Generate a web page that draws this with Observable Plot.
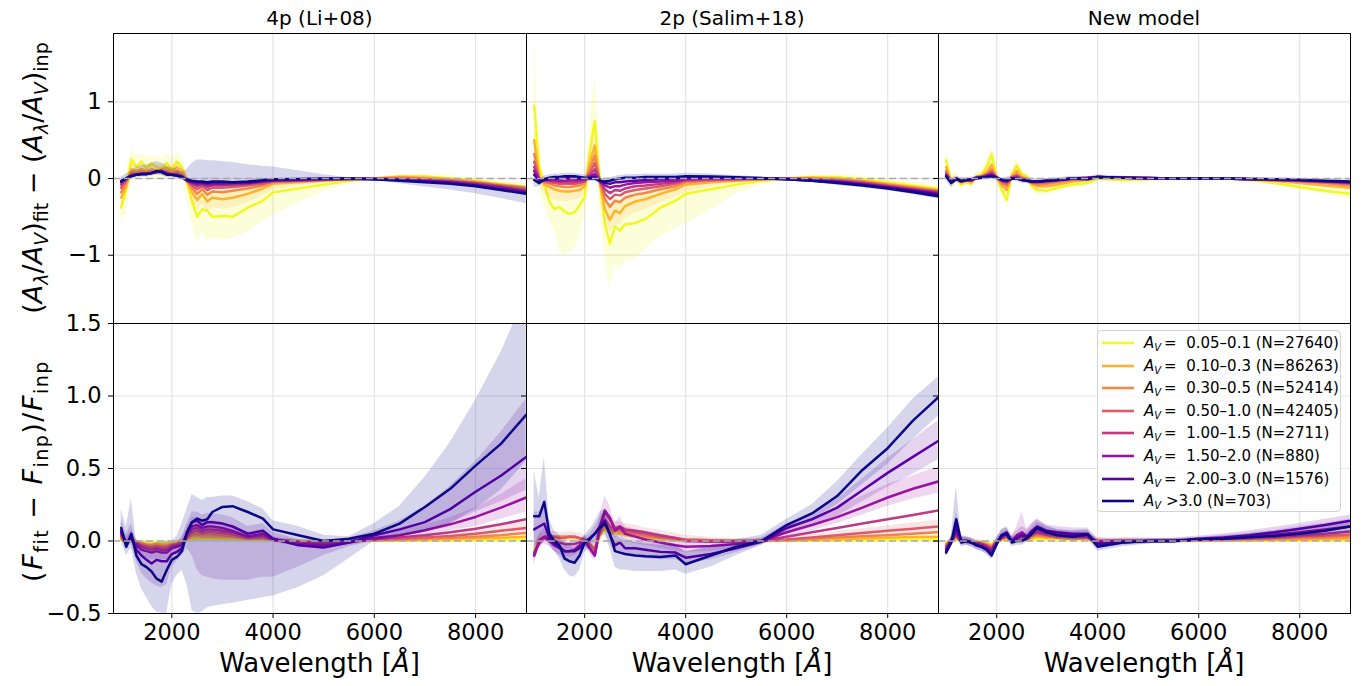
<!DOCTYPE html>
<html>
<head>
<meta charset="utf-8">
<script src="https://cdn.jsdelivr.net/npm/d3@7"></script>
<script src="https://cdn.jsdelivr.net/npm/@observablehq/plot@0.6"></script>
<style>
  body { margin: 0; background: #fff; font-family: "DejaVu Sans", sans-serif; }
  #root { position: relative; width: 1371px; height: 686px; overflow: hidden; background: #fff; }
  .abs { position: absolute; }
  .title { font-size: 20px; text-align: center; color: #000; }
  .xlab { font-size: 26px; text-align: center; color: #000; }
  #legend { position: absolute; left: 1097px; top: 330px; width: 244px; height: 182px;
    background: rgba(255,255,255,0.8); border: 1px solid #d3d3d3; border-radius: 4px; box-sizing: border-box; }
  .lrow { position: absolute; left: 0; height: 20px; display: flex; align-items: center; font-size: 15px; white-space: nowrap; }
  .lrow i { font-style: italic; }
  .lrow sub { font-size: 10px; vertical-align: -3px; line-height: 0; }
</style>
</head>
<body>
<div id="root"></div>
<script>
// ---------------- data ----------------
const WL = [1000,1100,1200,1300,1400,1500,1600,1700,1800,1900,2000,2100,2200,2300,2400,2500,2600,2700,2800,3000,3200,3500,3800,4000,4500,5000,5500,6000,6500,7000,7500,8000,8500,9000];
const X_TICKS = [2000, 4000, 6000, 8000];
const TOP_TICKS = [-1, 0, 1];
const BOT_TICKS = [-0.5, 0, 0.5, 1.0, 1.5];
const COLORS = ["#f0f921","#fdb32f","#f48849","#db5c68","#bf3984","#9814a0","#5c01a6","#0d0887"];
const LEGEND_TEXT = ["0.05–0.1 (N=27640)","0.10–0.3 (N=86263)","0.30–0.5 (N=52414)","0.50–1.0 (N=42405)","1.00–1.5 (N=2711)","1.50–2.0 (N=880)","2.00–3.0 (N=1576)",">3.0 (N=703)"];
const PANEL_TITLES = ["4p (Li+08)", "2p (Salim+18)", "New model"];

// Panel 1: top-left, attenuation curve residual, 4p (Li+08)
const P1_LINES = [
  [-0.38,-0.15,0.25,0.15,0.22,0.13,0.2,0.15,0.13,0.2,0.12,0.22,0.15,-0.05,-0.3,-0.5,-0.4,-0.42,-0.5,-0.49,-0.5,-0.38,-0.29,-0.18,-0.13,-0.08,-0.03,0,0.03,0.03,0,-0.03,-0.07,-0.11],
  [-0.25,-0.1,0.12,0.1,0.12,0.1,0.12,0.1,0.12,0.14,0.1,0.15,0.1,-0.02,-0.18,-0.28,-0.2,-0.3,-0.25,-0.27,-0.25,-0.2,-0.13,-0.07,-0.05,-0.03,-0.01,0,0.02,0.01,-0.01,-0.04,-0.08,-0.12],
  [-0.18,-0.05,0.08,0.08,0.09,0.08,0.1,0.09,0.1,0.1,0.07,0.1,0.06,-0.03,-0.12,-0.2,-0.14,-0.21,-0.17,-0.18,-0.16,-0.13,-0.09,-0.05,-0.035,-0.02,-0.01,0,0.01,0,-0.02,-0.05,-0.09,-0.13],
  [-0.12,-0.02,0.06,0.06,0.07,0.07,0.08,0.08,0.09,0.08,0.05,0.07,0.04,-0.03,-0.09,-0.14,-0.1,-0.15,-0.12,-0.12,-0.11,-0.09,-0.07,-0.04,-0.03,-0.015,-0.005,0,0,-0.01,-0.03,-0.06,-0.1,-0.15],
  [-0.08,0,0.05,0.05,0.06,0.06,0.07,0.08,0.09,0.07,0.05,0.05,0.03,-0.03,-0.07,-0.1,-0.08,-0.11,-0.09,-0.09,-0.08,-0.07,-0.05,-0.03,-0.025,-0.015,-0.005,0,-0.01,-0.02,-0.04,-0.07,-0.11,-0.16],
  [-0.05,0,0.04,0.05,0.06,0.06,0.07,0.09,0.09,0.06,0.05,0.04,0.02,-0.03,-0.05,-0.07,-0.06,-0.08,-0.07,-0.07,-0.06,-0.06,-0.04,-0.03,-0.02,-0.01,-0.005,-0.005,-0.015,-0.03,-0.05,-0.08,-0.12,-0.17],
  [-0.04,0,0.03,0.05,0.06,0.06,0.07,0.09,0.1,0.06,0.05,0.04,0.02,-0.02,-0.04,-0.05,-0.05,-0.06,-0.05,-0.05,-0.05,-0.05,-0.03,-0.02,-0.01,-0.005,0,-0.01,-0.02,-0.04,-0.06,-0.09,-0.14,-0.19],
  [-0.03,0,0.03,0.05,0.06,0.06,0.07,0.1,0.08,0.05,0.05,0.04,0.02,-0.01,-0.03,-0.04,-0.04,-0.05,-0.04,-0.04,-0.05,-0.04,-0.02,-0.01,-0.005,0,0,-0.01,-0.03,-0.05,-0.07,-0.1,-0.15,-0.2]
];
const P1_BANDS = [
  [0,
   [-0.6,-0.45,-0.05,0,0.02,0,0.02,0,0,0.02,0,0.05,0,-0.3,-0.6,-0.85,-0.7,-0.82,-0.78,-0.8,-0.78,-0.7,-0.55,-0.48,-0.32,-0.18,-0.07,-0.01,0,-0.01,-0.04,-0.07,-0.11,-0.15],
   [-0.1,0.05,0.38,0.3,0.33,0.28,0.3,0.28,0.27,0.33,0.27,0.35,0.28,0.05,-0.1,-0.22,-0.15,-0.2,-0.17,-0.18,-0.18,-0.14,-0.1,-0.06,-0.04,-0.02,0.01,0.02,0.05,0.05,0.04,0.01,-0.03,-0.07]],
  [1,
   [-0.4,-0.2,0.02,0.03,0.05,0.04,0.05,0.04,0.05,0.06,0.04,0.07,0.03,-0.1,-0.3,-0.42,-0.33,-0.43,-0.38,-0.4,-0.38,-0.32,-0.22,-0.15,-0.1,-0.06,-0.03,-0.01,0,-0.01,-0.03,-0.06,-0.1,-0.15],
   [-0.1,0,0.2,0.17,0.19,0.16,0.19,0.17,0.19,0.21,0.17,0.23,0.17,0.04,-0.07,-0.14,-0.09,-0.17,-0.13,-0.15,-0.13,-0.1,-0.06,-0.02,-0.01,0,0.01,0.01,0.04,0.03,0.01,-0.02,-0.06,-0.09]],
  [7,
   [-0.08,-0.05,0,0.01,0.02,0.02,0.03,0.05,0.04,0.01,0.01,0,-0.02,-0.05,-0.08,-0.1,-0.1,-0.11,-0.1,-0.1,-0.1,-0.09,-0.06,-0.04,-0.03,-0.02,-0.01,-0.03,-0.07,-0.11,-0.15,-0.2,-0.26,-0.33],
   [0.02,0.06,0.1,0.14,0.17,0.18,0.2,0.22,0.2,0.16,0.14,0.12,0.08,0.12,0.2,0.24,0.24,0.23,0.23,0.22,0.21,0.18,0.16,0.15,0.1,0.05,0.01,0,-0.005,-0.015,-0.03,-0.05,-0.08,-0.1]]
];

// Panel 2: top-middle, 2p (Salim+18)
const P2_LINES = [
  [0.95,0.15,-0.07,-0.3,-0.4,-0.37,-0.43,-0.46,-0.44,-0.35,-0.24,0.35,0.75,-0.05,-0.6,-0.85,-0.62,-0.68,-0.6,-0.58,-0.53,-0.38,-0.29,-0.2,-0.14,-0.08,-0.03,0,0.02,0.02,-0.01,-0.05,-0.09,-0.13],
  [0.5,0.02,-0.08,-0.11,-0.14,-0.16,-0.17,-0.17,-0.16,-0.15,-0.1,0.2,0.43,-0.05,-0.4,-0.54,-0.42,-0.45,-0.36,-0.3,-0.27,-0.2,-0.14,-0.08,-0.05,-0.03,-0.01,0,0.01,0,-0.03,-0.07,-0.11,-0.15],
  [0.32,0,-0.05,-0.07,-0.09,-0.1,-0.11,-0.11,-0.1,-0.09,-0.06,0.12,0.3,-0.04,-0.27,-0.37,-0.29,-0.31,-0.25,-0.21,-0.19,-0.14,-0.1,-0.05,-0.03,-0.02,-0.01,0,0,-0.01,-0.04,-0.08,-0.12,-0.16],
  [0.22,0,-0.03,-0.05,-0.06,-0.07,-0.07,-0.07,-0.07,-0.06,-0.04,0.07,0.2,-0.03,-0.2,-0.27,-0.21,-0.22,-0.18,-0.15,-0.13,-0.1,-0.07,-0.03,-0.02,-0.01,-0.005,0,-0.005,-0.02,-0.05,-0.09,-0.13,-0.17],
  [0.15,0,-0.02,-0.03,-0.04,-0.05,-0.05,-0.05,-0.05,-0.04,-0.03,0.04,0.12,-0.03,-0.14,-0.19,-0.15,-0.16,-0.13,-0.1,-0.09,-0.07,-0.05,-0.02,-0.01,-0.005,0,0,-0.01,-0.03,-0.06,-0.1,-0.14,-0.18],
  [0.1,-0.01,-0.02,-0.02,-0.02,-0.03,-0.03,-0.02,-0.02,-0.02,-0.01,0.02,0.06,-0.03,-0.09,-0.12,-0.1,-0.1,-0.08,-0.06,-0.05,-0.04,-0.03,-0.01,0,0,0,-0.005,-0.02,-0.04,-0.07,-0.11,-0.15,-0.19],
  [0.05,-0.03,-0.02,-0.01,0,0,0.01,0.01,0.01,0,0,0.01,0.02,-0.03,-0.06,-0.07,-0.05,-0.05,-0.04,-0.03,-0.02,-0.01,0,0.01,0.01,0.005,0,-0.01,-0.03,-0.05,-0.08,-0.12,-0.16,-0.21],
  [-0.02,-0.06,-0.01,0.01,0.02,0.02,0.03,0.03,0.03,0.02,0.01,0,0,-0.03,-0.04,-0.03,-0.01,0,0.01,0.01,0.02,0.02,0.02,0.03,0.025,0.015,0.005,-0.01,-0.03,-0.06,-0.09,-0.13,-0.18,-0.23]
];
const P2_BANDS = [
  [0,
   [0.1,-0.15,-0.35,-0.55,-0.68,-0.95,-1.02,-0.95,-0.93,-0.75,-0.5,-0.05,0.3,-0.4,-1.0,-1.48,-1.1,-1.2,-1.08,-1.05,-0.93,-0.76,-0.65,-0.59,-0.41,-0.2,-0.08,-0.02,0,-0.01,-0.04,-0.08,-0.12,-0.16],
   [1.85,0.35,0.05,-0.05,-0.1,-0.13,-0.12,-0.14,-0.12,-0.08,-0.02,0.7,1.35,0.3,-0.25,-0.4,-0.28,-0.3,-0.25,-0.22,-0.2,-0.12,-0.08,-0.05,-0.03,-0.01,0.01,0.02,0.05,0.05,0.03,-0.01,-0.05,-0.09]],
  [1,
   [0.25,-0.1,-0.2,-0.25,-0.28,-0.3,-0.3,-0.3,-0.28,-0.26,-0.2,0.05,0.25,-0.15,-0.55,-0.72,-0.6,-0.6,-0.52,-0.45,-0.4,-0.32,-0.24,-0.18,-0.11,-0.06,-0.03,-0.01,0,-0.01,-0.04,-0.08,-0.12,-0.16],
   [0.75,0.12,0.02,-0.02,-0.04,-0.06,-0.07,-0.07,-0.06,-0.05,0,0.35,0.6,0.05,-0.22,-0.33,-0.25,-0.28,-0.22,-0.17,-0.15,-0.1,-0.06,-0.02,-0.01,0,0.01,0.01,0.02,0.01,-0.02,-0.06,-0.1,-0.14]],
  [7,
   [-0.12,-0.1,-0.05,-0.03,-0.02,-0.02,-0.01,-0.01,-0.01,-0.02,-0.03,-0.04,-0.04,-0.07,-0.08,-0.07,-0.05,-0.04,-0.03,-0.03,-0.02,-0.02,-0.02,-0.01,-0.01,-0.01,-0.01,-0.03,-0.05,-0.09,-0.12,-0.16,-0.21,-0.27],
   [0.08,-0.02,0.03,0.05,0.06,0.06,0.07,0.07,0.07,0.06,0.05,0.04,0.04,0.01,0,0.01,0.03,0.04,0.05,0.05,0.06,0.06,0.06,0.07,0.06,0.04,0.02,0.01,-0.01,-0.03,-0.06,-0.1,-0.15,-0.19]]
];

// Panel 3: top-right, New model
const P3_LINES = [
  [0.24,-0.05,0,-0.08,-0.05,-0.07,0.03,0.05,0.15,0.32,0.02,-0.15,-0.28,0.05,0.17,0.05,0.02,-0.1,-0.15,-0.16,-0.12,-0.08,-0.06,0,-0.02,-0.01,0,0,0,-0.02,-0.06,-0.11,-0.16,-0.2],
  [0.15,-0.04,0,-0.05,-0.03,-0.05,0.02,0.03,0.08,0.18,0.01,-0.09,-0.15,0.03,0.1,0.02,0,-0.07,-0.1,-0.1,-0.08,-0.04,-0.02,0.01,0,0,0,0,0,-0.01,-0.03,-0.06,-0.09,-0.12],
  [0.1,-0.04,0,-0.04,-0.02,-0.04,0.02,0.03,0.06,0.12,0.01,-0.06,-0.1,0.02,0.06,0,-0.01,-0.06,-0.08,-0.07,-0.05,-0.02,0,0.02,0.01,0.005,0,0,0,-0.01,-0.02,-0.04,-0.06,-0.09],
  [0.07,-0.04,0,-0.04,-0.02,-0.03,0.01,0.02,0.05,0.09,0.01,-0.04,-0.07,0.01,0.04,-0.01,-0.02,-0.05,-0.06,-0.05,-0.03,-0.01,0.01,0.02,0.01,0.005,0,0,0,-0.01,-0.02,-0.03,-0.05,-0.07],
  [0.05,-0.04,0,-0.04,-0.02,-0.02,0.01,0.02,0.04,0.07,0.01,-0.03,-0.05,0,0.02,-0.02,-0.02,-0.04,-0.05,-0.04,-0.02,0,0.01,0.02,0.01,0.005,0,0,0,-0.01,-0.02,-0.03,-0.04,-0.06],
  [0.04,-0.05,0,-0.04,-0.02,-0.02,0.01,0.01,0.03,0.05,0.01,-0.02,-0.04,0,0.01,-0.02,-0.03,-0.04,-0.04,-0.03,-0.02,0,0.01,0.02,0.01,0.005,0,0,0,-0.01,-0.015,-0.025,-0.04,-0.05],
  [0.03,-0.05,0,-0.03,-0.02,-0.02,0.01,0.01,0.02,0.04,0.01,-0.02,-0.03,0,0,-0.02,-0.03,-0.04,-0.04,-0.03,-0.02,0,0,0.02,0.01,0.005,0,0,0,-0.005,-0.01,-0.02,-0.035,-0.05],
  [0.03,-0.06,-0.01,-0.03,-0.02,-0.01,0,0.01,0.02,0.03,0.01,-0.02,-0.02,0,0,-0.02,-0.03,-0.04,-0.04,-0.03,-0.02,0,-0.01,0.02,0.01,0,0,0,0,-0.005,-0.01,-0.02,-0.03,-0.04]
];
const P3_BANDS = [
  [0,
   [0.05,-0.15,-0.08,-0.13,-0.1,-0.12,-0.02,0,0.08,0.2,-0.06,-0.22,-0.38,-0.05,0.08,-0.03,-0.05,-0.17,-0.22,-0.21,-0.17,-0.12,-0.1,-0.04,-0.05,-0.03,-0.015,-0.01,-0.01,-0.03,-0.09,-0.15,-0.2,-0.27],
   [0.38,0.05,0.08,-0.02,0,-0.02,0.08,0.1,0.22,0.42,0.1,-0.08,-0.18,0.12,0.26,0.12,0.08,-0.03,-0.08,-0.1,-0.07,-0.03,-0.02,0.04,0.01,0.01,0.01,0.01,0.01,0,-0.03,-0.07,-0.11,-0.14]],
  [1,
   [0.05,-0.1,-0.05,-0.09,-0.07,-0.09,-0.02,-0.01,0.03,0.1,-0.04,-0.14,-0.22,-0.03,0.03,-0.04,-0.05,-0.12,-0.15,-0.14,-0.12,-0.07,-0.05,-0.02,-0.02,-0.015,-0.01,-0.01,-0.01,-0.02,-0.05,-0.09,-0.12,-0.16],
   [0.25,0.02,0.05,-0.01,0.01,-0.01,0.06,0.07,0.13,0.26,0.06,-0.04,-0.08,0.09,0.17,0.08,0.05,-0.02,-0.05,-0.06,-0.04,0,0.03,0.04,0.02,0.01,0.01,0.01,0.01,0,-0.01,-0.03,-0.06,-0.08]],
  [7,
   [-0.03,-0.12,-0.05,-0.07,-0.05,-0.04,-0.03,-0.02,-0.01,0,-0.02,-0.05,-0.06,-0.03,-0.04,-0.06,-0.07,-0.08,-0.07,-0.06,-0.05,-0.03,-0.04,-0.01,-0.01,-0.01,-0.01,-0.01,-0.01,-0.02,-0.03,-0.04,-0.05,-0.07],
   [0.09,0,0.03,0.01,0.01,0.02,0.03,0.04,0.05,0.06,0.04,0.01,0.02,0.03,0.04,0.02,0.01,0,-0.01,0,0.01,0.03,0.02,0.05,0.03,0.01,0.01,0.01,0.01,0.01,0.01,0,-0.01,-0.02]]
];

// Panel 4: bottom-left, flux residual, 4p (Li+08)
const P4_LINES = [
  [0.01,0,0,-0.003,-0.005,-0.008,-0.01,-0.008,-0.01,-0.01,-0.008,-0.005,0,0.008,0.015,0.018,0.015,0.015,0.015,0.014,0.012,0.008,0.008,0.003,0,0,0,0,0.002,0.003,0.004,0.006,0.008,0.01],
  [0.02,-0.005,0.005,-0.005,-0.015,-0.02,-0.025,-0.02,-0.025,-0.025,-0.02,-0.015,-0.005,0.015,0.03,0.035,0.03,0.03,0.03,0.028,0.025,0.015,0.015,0.005,0,0,0,0.003,0.006,0.01,0.013,0.017,0.022,0.03],
  [0.03,-0.01,0.01,-0.01,-0.02,-0.03,-0.035,-0.03,-0.035,-0.035,-0.025,-0.02,-0.01,0.02,0.045,0.05,0.045,0.045,0.045,0.04,0.035,0.02,0.02,0.005,-0.005,-0.005,0,0.005,0.01,0.015,0.02,0.03,0.04,0.055],
  [0.04,-0.01,0.01,-0.015,-0.03,-0.04,-0.045,-0.04,-0.045,-0.045,-0.03,-0.025,-0.015,0.03,0.06,0.07,0.055,0.06,0.06,0.055,0.045,0.025,0.03,0.01,-0.005,-0.01,0,0.005,0.015,0.025,0.035,0.05,0.07,0.09],
  [0.05,-0.01,0.02,-0.02,-0.04,-0.05,-0.06,-0.05,-0.06,-0.06,-0.04,-0.03,-0.02,0.04,0.08,0.09,0.07,0.08,0.08,0.07,0.06,0.03,0.04,0.01,-0.01,-0.02,-0.005,0.01,0.025,0.04,0.06,0.085,0.115,0.15],
  [0.06,-0.01,0.02,-0.03,-0.06,-0.07,-0.08,-0.07,-0.08,-0.08,-0.05,-0.04,-0.03,0.05,0.1,0.11,0.09,0.1,0.1,0.09,0.07,0.03,0.05,0.01,-0.02,-0.03,-0.01,0.02,0.04,0.074,0.115,0.166,0.23,0.3],
  [0.07,-0.02,0.03,-0.06,-0.1,-0.13,-0.155,-0.13,-0.14,-0.14,-0.09,-0.075,-0.05,0.06,0.13,0.14,0.11,0.13,0.13,0.12,0.1,0.05,0.07,0.015,-0.03,-0.045,-0.01,0.04,0.08,0.13,0.22,0.34,0.45,0.58],
  [0.09,-0.04,0.05,-0.1,-0.16,-0.18,-0.21,-0.26,-0.28,-0.2,-0.13,-0.11,-0.07,0.06,0.13,0.155,0.14,0.15,0.2,0.235,0.24,0.2,0.155,0.08,0.04,0,0.015,0.05,0.12,0.235,0.36,0.52,0.67,0.87]
];
const P4_BANDS = [
  [3,
   [0,-0.03,-0.01,-0.04,-0.06,-0.07,-0.075,-0.07,-0.075,-0.075,-0.06,-0.05,-0.04,0,0.03,0.04,0.03,0.035,0.035,0.03,0.02,0.005,0.01,-0.01,-0.02,-0.025,-0.01,-0.005,0,0.01,0.015,0.025,0.04,0.05],
   [0.09,0.02,0.05,0.01,0,-0.01,-0.015,-0.01,-0.015,-0.015,0,0.005,0.02,0.07,0.1,0.11,0.09,0.09,0.09,0.085,0.075,0.05,0.055,0.03,0.01,0.005,0.01,0.015,0.03,0.045,0.06,0.08,0.105,0.135]],
  [5,
   [0.02,-0.04,-0.01,-0.07,-0.1,-0.12,-0.13,-0.12,-0.13,-0.13,-0.09,-0.08,-0.06,0,0.05,0.06,0.05,0.06,0.06,0.05,0.04,0,0.02,-0.01,-0.04,-0.05,-0.03,0,0.02,0.04,0.07,0.1,0.15,0.2],
   [0.12,0.03,0.08,0.01,-0.02,-0.03,-0.04,-0.03,-0.04,-0.04,-0.02,-0.01,0.01,0.1,0.16,0.16,0.13,0.14,0.14,0.13,0.1,0.06,0.08,0.03,0,-0.01,0.01,0.04,0.07,0.11,0.16,0.23,0.32,0.43]],
  [6,
   [0.02,-0.06,-0.02,-0.14,-0.22,-0.26,-0.29,-0.31,-0.32,-0.3,-0.18,-0.14,-0.1,-0.05,-0.1,-0.2,-0.24,-0.25,-0.26,-0.27,-0.27,-0.27,-0.25,-0.25,-0.18,-0.1,-0.04,0,0.03,0.06,0.12,0.2,0.27,0.35],
   [0.15,0.05,0.12,0,-0.03,-0.05,-0.07,-0.05,-0.06,-0.06,-0.03,-0.02,0.03,0.12,0.2,0.2,0.18,0.19,0.19,0.18,0.16,0.1,0.12,0.06,0.01,-0.01,0.02,0.07,0.14,0.24,0.38,0.55,0.75,0.98]],
  [7,
   [0,-0.1,-0.05,-0.22,-0.33,-0.39,-0.45,-0.49,-0.5,-0.5,-0.3,-0.24,-0.2,-0.3,-0.48,-0.5,-0.49,-0.46,-0.45,-0.44,-0.43,-0.41,-0.39,-0.38,-0.32,-0.24,-0.12,0,0.03,0.06,0.12,0.22,0.35,0.55],
   [0.22,0.1,0.29,0,0,-0.02,-0.02,-0.01,-0.01,0,0,0.03,0.12,0.22,0.32,0.3,0.28,0.3,0.3,0.31,0.31,0.27,0.22,0.14,0.1,0.04,0.03,0.12,0.24,0.44,0.68,0.97,1.3,1.7]]
];

// Panel 5: bottom-middle, 2p (Salim+18)
const P5_LINES = [
  [-0.06,0.01,0.02,0.02,0.02,0.02,0.02,0.02,0.02,0.015,0.01,-0.04,-0.07,0.03,0.08,0.05,0.05,0.05,0.04,0.03,0.02,0.01,0.005,0,0,0,0,0,0.002,0.004,0.006,0.008,0.01,0.012],
  [-0.08,0.01,0.03,0.03,0.03,0.03,0.03,0.03,0.025,0.02,0.01,-0.03,-0.07,0.04,0.1,0.06,0.06,0.06,0.05,0.04,0.03,0.02,0.01,0.005,0,0,0,0.003,0.008,0.012,0.017,0.022,0.027,0.03],
  [-0.09,0.01,0.03,0.03,0.03,0.03,0.03,0.03,0.03,0.02,0.01,-0.02,-0.05,0.05,0.12,0.08,0.07,0.07,0.06,0.05,0.04,0.025,0.015,0.01,0.005,0,0,0.005,0.015,0.025,0.033,0.04,0.05,0.06],
  [-0.1,0,0.03,0.03,0.03,0.02,0.02,0.03,0.03,0.02,0.01,-0.03,-0.06,0.06,0.15,0.1,0.08,0.08,0.07,0.06,0.05,0.03,0.02,0.01,0.005,0,0,0.01,0.025,0.04,0.055,0.07,0.085,0.1],
  [-0.08,-0.02,0.02,0.01,0,-0.01,-0.02,-0.02,-0.02,-0.01,0,-0.05,-0.1,0.08,0.2,0.15,0.09,0.1,0.08,0.07,0.06,0.04,0.02,0,-0.005,-0.005,0,0.03,0.06,0.09,0.12,0.15,0.18,0.21],
  [-0.1,0,0.03,0,-0.03,-0.05,-0.07,-0.07,-0.06,-0.03,0,-0.05,-0.1,0.1,0.21,0.16,0.07,0.1,0.05,0.03,0.01,-0.01,-0.03,-0.04,-0.035,-0.02,0,0.06,0.11,0.165,0.23,0.3,0.36,0.41],
  [0.08,0.1,0.12,0.02,-0.02,-0.04,-0.07,-0.07,-0.07,-0.05,-0.01,0.01,0.05,0.1,0.14,0.04,-0.03,-0.01,-0.05,-0.05,-0.06,-0.075,-0.08,-0.115,-0.09,-0.05,-0.005,0.09,0.15,0.23,0.35,0.47,0.58,0.69],
  [0.17,0.17,0.27,0.05,0,-0.03,-0.12,-0.14,-0.15,-0.1,-0.01,0.02,0.05,0.09,0.12,0.05,-0.07,-0.08,-0.09,-0.1,-0.105,-0.11,-0.1,-0.16,-0.1,-0.04,0,0.11,0.19,0.31,0.49,0.64,0.83,0.99]
];
const P5_BANDS = [
  [3,
   [-0.17,-0.04,0,0,0,-0.01,-0.01,0,0,-0.01,-0.02,-0.07,-0.11,0.02,0.09,0.05,0.04,0.04,0.03,0.02,0.01,0,-0.01,-0.015,-0.015,-0.015,-0.01,-0.005,0.005,0.015,0.025,0.035,0.045,0.055],
   [-0.03,0.04,0.06,0.06,0.065,0.06,0.06,0.065,0.06,0.055,0.04,0.01,-0.01,0.12,0.22,0.17,0.14,0.13,0.12,0.11,0.09,0.07,0.055,0.04,0.025,0.015,0.01,0.025,0.045,0.065,0.085,0.105,0.125,0.145]],
  [5,
   [-0.15,-0.05,-0.02,-0.04,-0.07,-0.09,-0.11,-0.11,-0.1,-0.07,-0.04,-0.09,-0.14,0.04,0.13,0.09,0.02,0.04,0,-0.02,-0.03,-0.05,-0.07,-0.08,-0.07,-0.05,-0.02,0.03,0.07,0.12,0.18,0.24,0.29,0.33],
   [-0.04,0.05,0.09,0.04,0.01,-0.01,-0.03,-0.03,-0.02,0.01,0.04,-0.01,-0.05,0.17,0.31,0.24,0.12,0.17,0.1,0.08,0.06,0.03,0.01,0,0,0.01,0.02,0.09,0.15,0.23,0.31,0.39,0.45,0.51]],
  [6,
   [-0.03,0,0.02,-0.03,-0.07,-0.1,-0.14,-0.14,-0.14,-0.11,-0.05,-0.03,0,0.04,0.07,-0.02,-0.08,-0.07,-0.1,-0.11,-0.12,-0.13,-0.13,-0.16,-0.13,-0.08,-0.03,0.06,0.11,0.17,0.27,0.37,0.46,0.56],
   [0.2,0.2,0.25,0.08,0.03,0.01,-0.01,-0.01,-0.01,0,0.03,0.05,0.1,0.16,0.21,0.1,0.03,0.05,0.01,-0.01,-0.01,-0.02,-0.03,-0.07,-0.05,-0.02,0.02,0.12,0.19,0.29,0.43,0.57,0.7,0.83]],
  [7,
   [-0.05,0,0.05,-0.02,-0.07,-0.12,-0.2,-0.24,-0.25,-0.2,-0.08,-0.05,-0.02,0.03,0.04,-0.05,-0.18,-0.2,-0.2,-0.21,-0.21,-0.21,-0.2,-0.23,-0.18,-0.1,-0.03,0.07,0.15,0.25,0.39,0.53,0.7,0.86],
   [0.48,0.3,0.58,0.15,0.07,0.04,-0.02,-0.03,-0.05,-0.02,0.04,0.08,0.13,0.2,0.22,0.14,0.04,0.02,0,-0.01,-0.02,-0.03,-0.02,-0.08,-0.03,0.01,0.04,0.15,0.25,0.41,0.6,0.78,0.98,1.13]]
];

// Panel 6: bottom-right, New model
const P6_LINES = [
  [-0.01,0,0.01,0,0,-0.005,-0.005,-0.005,-0.01,-0.02,-0.005,0.005,0.01,0,0.005,0.01,0.005,0.01,0.015,0.01,0.01,0.008,0.008,0,0,0,0,0,0.001,0.002,0.003,0.004,0.005,0.006],
  [-0.02,0,0.02,0,0,-0.005,-0.01,-0.01,-0.02,-0.03,-0.01,0.01,0.02,0,0.01,0.015,0.01,0.02,0.03,0.02,0.02,0.015,0.015,0,0,0,0,0.002,0.004,0.006,0.008,0.01,0.013,0.016],
  [-0.03,0,0.03,0,0,-0.01,-0.01,-0.015,-0.025,-0.04,-0.01,0.015,0.025,0,0.015,0.02,0.01,0.03,0.04,0.03,0.025,0.02,0.02,0,0,0,0,0.003,0.007,0.01,0.014,0.018,0.023,0.03],
  [-0.04,0,0.04,0,0,-0.01,-0.015,-0.02,-0.03,-0.05,-0.01,0.02,0.03,0,0.02,0.03,0.015,0.04,0.05,0.04,0.03,0.025,0.025,0,0,0,0,0.005,0.01,0.015,0.02,0.03,0.035,0.045],
  [-0.05,0,0.05,0,0,-0.01,-0.02,-0.03,-0.04,-0.06,-0.01,0.02,0.04,0,0.03,0.04,0.02,0.05,0.06,0.05,0.04,0.03,0.03,-0.005,0,0,0,0.008,0.015,0.022,0.03,0.04,0.05,0.065],
  [-0.06,0,0.07,0,0,-0.01,-0.02,-0.03,-0.05,-0.07,-0.01,0.03,0.05,0,0.04,0.06,0.03,0.07,0.08,0.06,0.05,0.04,0.04,-0.01,-0.005,0,0,0.01,0.02,0.03,0.045,0.06,0.08,0.1],
  [-0.07,-0.01,0.1,0,0,-0.01,-0.03,-0.04,-0.06,-0.09,-0.02,0.04,0.06,0,0.02,0.04,0.03,0.07,0.1,0.07,0.06,0.05,0.05,-0.02,-0.01,0,0,0.015,0.025,0.04,0.06,0.085,0.11,0.14],
  [-0.08,-0.01,0.15,-0.01,0,-0.01,-0.03,-0.04,-0.06,-0.1,-0.02,0.04,0.05,-0.01,0,0,0.02,0.05,0.09,0.06,0.04,0.03,0.045,-0.04,-0.01,0,0,0.01,0.015,0.025,0.035,0.05,0.07,0.1]
];
const P6_BANDS = [
  [3,
   [-0.06,-0.02,0.02,-0.02,-0.02,-0.03,-0.035,-0.04,-0.05,-0.07,-0.03,0,0.01,-0.02,0,0.01,-0.005,0.02,0.03,0.02,0.01,0.005,0.005,-0.02,-0.015,-0.01,-0.01,-0.005,0,0.005,0.01,0.015,0.02,0.025],
   [-0.015,0.025,0.07,0.025,0.025,0.015,0.01,0.005,-0.005,-0.025,0.015,0.045,0.055,0.025,0.045,0.06,0.04,0.065,0.075,0.065,0.055,0.05,0.05,0.025,0.02,0.015,0.015,0.02,0.025,0.03,0.035,0.045,0.055,0.07]],
  [5,
   [-0.09,-0.02,0.03,-0.02,-0.02,-0.03,-0.04,-0.05,-0.07,-0.09,-0.03,0.01,0.03,-0.02,0.01,0.02,0,0.04,0.05,0.03,0.02,0.015,0.015,-0.03,-0.02,-0.01,-0.01,0,0.005,0.01,0.02,0.03,0.045,0.06],
   [-0.03,0.03,0.13,0.03,0.02,0.01,0,-0.01,-0.02,-0.04,0.02,0.06,0.08,0.03,0.1,0.2,0.08,0.12,0.15,0.1,0.08,0.07,0.07,0.01,0.01,0.01,0.015,0.025,0.04,0.055,0.075,0.1,0.125,0.15]],
  [6,
   [-0.1,-0.04,0.03,-0.03,-0.03,-0.04,-0.06,-0.07,-0.09,-0.12,-0.05,0.01,0.03,-0.03,-0.01,0.01,0,0.04,0.07,0.04,0.03,0.02,0.02,-0.05,-0.03,-0.02,-0.01,0,0.005,0.015,0.03,0.05,0.07,0.1],
   [-0.03,0.03,0.2,0.04,0.03,0.02,0,-0.01,-0.03,-0.05,0.02,0.08,0.1,0.04,0.07,0.1,0.08,0.12,0.15,0.11,0.1,0.09,0.09,0.02,0.01,0.015,0.02,0.035,0.05,0.07,0.095,0.12,0.15,0.18]],
  [7,
   [-0.11,-0.04,0.02,-0.04,-0.03,-0.04,-0.06,-0.07,-0.09,-0.13,-0.05,0.01,0.02,-0.04,-0.03,-0.03,-0.01,0.02,0.05,0.03,0.01,0,0.01,-0.07,-0.04,-0.02,-0.01,0,0,0.005,0.01,0.02,0.03,0.05],
   [-0.04,0.03,0.38,0.03,0.03,0.02,0,-0.01,-0.03,-0.06,0.02,0.08,0.09,0.03,0.04,0.04,0.06,0.09,0.13,0.1,0.08,0.07,0.08,0,0.02,0.02,0.015,0.025,0.035,0.05,0.065,0.085,0.11,0.14]]
];

// ---------------- checks ----------------
[P1_LINES,P2_LINES,P3_LINES,P4_LINES,P5_LINES,P6_LINES].forEach((L, p) => L.forEach((a, s) => {
  if (a.length !== WL.length) throw new Error(`P${p+1} line ${s} has ${a.length}`);
}));
[P1_BANDS,P2_BANDS,P3_BANDS,P4_BANDS,P5_BANDS,P6_BANDS].forEach((B, p) => B.forEach(b => {
  if (b[1].length !== WL.length || b[2].length !== WL.length) throw new Error(`P${p+1} band ${b[0]} has ${b[1].length}/${b[2].length}`);
}));

// ---------------- layout ----------------
const root = document.getElementById("root");
const COL_LEFT = [113, 526, 938];
const COL_W = [413, 412, 412];
const ROW_TOP = [33, 323];
const ROW_H = 290;
const X_DOMAIN = [848, 9006];

const fmtTop = d => d < 0 ? "\u2212" + Math.abs(d) : String(d);
const fmtBot = d3.format(".1f");

function makePanel(lines, bands, row, col) {
  const isTop = row === 0;
  const yTicks = isTop ? TOP_TICKS : BOT_TICKS;
  const marks = [];
  marks.push(Plot.ruleX(X_TICKS, {stroke: "#e3e3e3", strokeWidth: 1.2}));
  marks.push(Plot.ruleY(yTicks, {stroke: "#e3e3e3", strokeWidth: 1.2}));
  for (let s = 0; s < 8; s++) {
    const b = bands.find(d => d[0] === s);
    if (b) {
      const bd = WL.map((w, i) => ({w, lo: b[1][i], hi: b[2][i]}));
      marks.push(Plot.areaY(bd, {x: "w", y1: "lo", y2: "hi", fill: COLORS[s], fillOpacity: 0.17, clip: true}));
    }
    const ld = WL.map((w, i) => ({w, v: lines[s][i]}));
    marks.push(Plot.lineY(ld, {x: "w", y: "v", stroke: COLORS[s], strokeWidth: 2.5, clip: true}));
  }
  marks.push(Plot.ruleY([0], {stroke: "#a9a9a9", strokeWidth: 1.5, strokeDasharray: "7,4"}));
  marks.push(Plot.frame({stroke: "#000", strokeWidth: 1}));
  marks.push(Plot.axisY(yTicks, {
    tickSize: 5, tickPadding: 7, fontSize: 22.5, label: null,
    tickFormat: col === 0 ? (isTop ? fmtTop : fmtBot) : () => ""
  }));
  if (!isTop) {
    marks.push(Plot.axisX(X_TICKS, {tickSize: 5, tickPadding: 6, fontSize: 22.5, label: null, tickFormat: d => String(d)}));
  }
  const svg = Plot.plot({
    width: COL_W[col], height: ROW_H,
    marginLeft: 0, marginRight: 0, marginTop: 0, marginBottom: 0,
    x: {domain: X_DOMAIN, ...(isTop ? {axis: null} : {})},
    y: {domain: isTop ? [-1.89, 1.89] : [-0.5, 1.5]},
    style: {overflow: "visible", background: "transparent", fontFamily: "DejaVu Sans", color: "#000"},
    marks
  });
  const wrap = document.createElement("div");
  wrap.className = "abs";
  wrap.style.left = COL_LEFT[col] + "px";
  wrap.style.top = ROW_TOP[row] + "px";
  wrap.style.width = COL_W[col] + "px";
  wrap.style.height = ROW_H + "px";
  wrap.appendChild(svg);
  root.appendChild(wrap);
}

makePanel(P1_LINES, P1_BANDS, 0, 0);
makePanel(P2_LINES, P2_BANDS, 0, 1);
makePanel(P3_LINES, P3_BANDS, 0, 2);
makePanel(P4_LINES, P4_BANDS, 1, 0);
makePanel(P5_LINES, P5_BANDS, 1, 1);
makePanel(P6_LINES, P6_BANDS, 1, 2);

// titles and x labels
PANEL_TITLES.forEach((t, c) => {
  const d = document.createElement("div");
  d.className = "abs title";
  d.style.left = COL_LEFT[c] + "px"; d.style.width = COL_W[c] + "px"; d.style.top = "6px";
  d.textContent = t;
  root.appendChild(d);
  const x = document.createElement("div");
  x.className = "abs xlab";
  x.style.left = COL_LEFT[c] + "px"; x.style.width = COL_W[c] + "px"; x.style.top = "648px";
  x.innerHTML = "Wavelength [<i>Å</i>]";
  root.appendChild(x);
});

// y labels
const ov = document.createElementNS("http://www.w3.org/2000/svg", "svg");
ov.setAttribute("width", 100); ov.setAttribute("height", 686);
ov.setAttribute("class", "abs"); ov.style.left = "0px"; ov.style.top = "0px";
ov.setAttribute("font-family", "DejaVu Sans");
const S = 19, D = 6;
const it = t => `<tspan font-style="italic">${t}</tspan>`;
const sub = (t, ital) => `<tspan font-size="${S}" dy="${D}"${ital ? ' font-style="italic"' : ''}>${t}</tspan><tspan dy="${-D}">`;
const topLabel = `(${it("A")}${sub("λ", true)}/</tspan>${it("A")}${sub("V", true)})</tspan>${sub("fit")} \u2212 (</tspan>${it("A")}${sub("λ", true)}/</tspan>${it("A")}${sub("V", true)})</tspan>${sub("inp")}</tspan>`;
const botLabel = `(${it("F")}${sub("fit")} \u2212 </tspan>${it("F")}${sub("inp")})/</tspan>${it("F")}${sub("inp")}</tspan>`;
ov.innerHTML = `<text transform="translate(42,178) rotate(-90)" text-anchor="middle" font-size="27">${topLabel}</text>
<text transform="translate(42,471) rotate(-90)" text-anchor="middle" font-size="27" letter-spacing="1.5">${botLabel}</text>`;
root.appendChild(ov);

// legend
const leg = document.createElement("div");
leg.id = "legend";
LEGEND_TEXT.forEach((t, i) => {
  const r = document.createElement("div");
  r.className = "lrow";
  r.style.top = (2 + i * 22.6) + "px";
  const eq = i < 7 ? "&#8201;=&nbsp;&nbsp;" : "&nbsp;";
  r.innerHTML = `<svg width="46" height="20" style="flex:none"><line x1="4" x2="36" y1="10" y2="10" stroke="${COLORS[i]}" stroke-width="2.6"/></svg>` +
    `<span><i>A</i><sub><i>V</i></sub>${eq}${t}</span>`;
  leg.appendChild(r);
});
root.appendChild(leg);
</script>
</body>
</html>
